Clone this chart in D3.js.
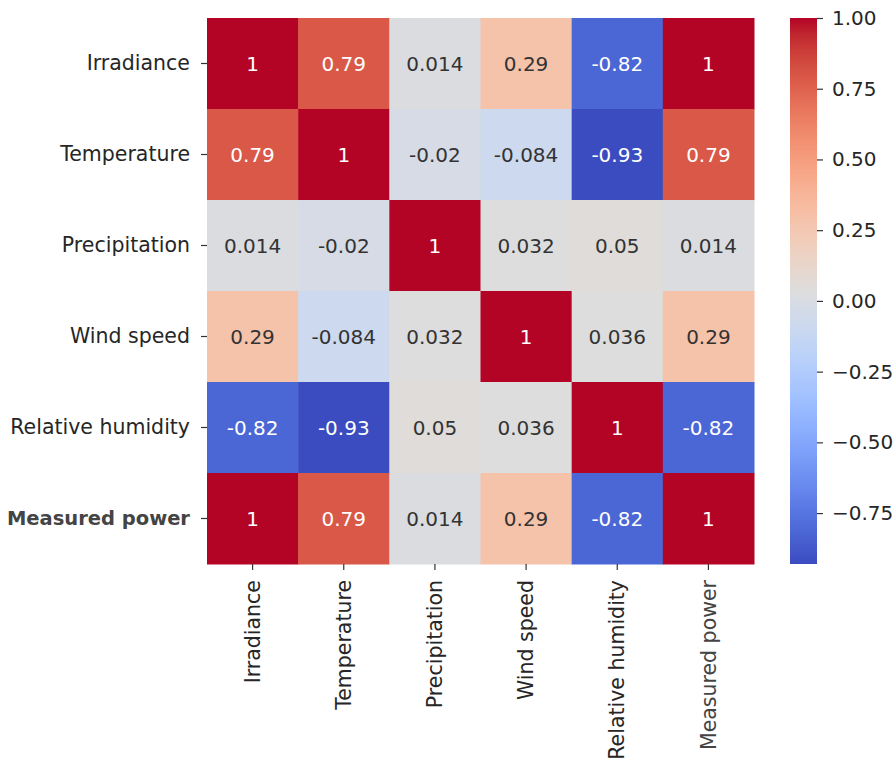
<!DOCTYPE html>
<html>
<head>
<meta charset="utf-8">
<script src="https://cdn.jsdelivr.net/npm/d3@7"></script>
<style>
  html, body { margin: 0; padding: 0; background: #fff; }
  svg { display: block; }
  text { font-family: "DejaVu Sans", sans-serif; }
</style>
</head>
<body>
<svg id="chart" width="896" height="760"></svg>
<script>
// Variables of the correlation matrix (rows top to bottom, columns left to right)
const variables = ["Irradiance", "Temperature", "Precipitation", "Wind speed", "Relative humidity", "Measured power"];

// Correlation coefficients, one array per row
const rowIrradiance   = [1, 0.79, 0.014, 0.29, -0.82, 1];
const rowTemperature  = [0.79, 1, -0.02, -0.084, -0.93, 0.79];
const rowPrecipitation= [0.014, -0.02, 1, 0.032, 0.05, 0.014];
const rowWindSpeed    = [0.29, -0.084, 0.032, 1, 0.036, 0.29];
const rowHumidity     = [-0.82, -0.93, 0.05, 0.036, 1, -0.82];
const rowPower        = [1, 0.79, 0.014, 0.29, -0.82, 1];
const matrix = [rowIrradiance, rowTemperature, rowPrecipitation, rowWindSpeed, rowHumidity, rowPower];

// Colour bar tick values
const colorbarTicks = [-0.75, -0.5, -0.25, 0, 0.25, 0.5, 0.75, 1.0];

// Diverging "coolwarm" palette control points
const coolwarmStops = [
  [59,76,192],[68,90,204],[77,104,215],[87,117,225],[98,130,234],[108,142,241],
  [119,154,247],[130,165,251],[141,176,254],[152,185,255],[163,194,255],[174,201,253],
  [184,208,249],[194,213,244],[204,217,238],[213,219,230],[221,221,221],[229,216,209],
  [236,211,197],[241,204,185],[245,196,173],[247,187,160],[247,177,148],[247,166,135],
  [244,154,123],[241,141,111],[236,127,99],[229,112,88],[222,96,77],[213,80,66],
  [203,62,56],[192,40,47],[180,4,38]
].map(c => d3.rgb(c[0], c[1], c[2]).toString());

const allValues = matrix.flat();
const vmin = d3.min(allValues), vmax = d3.max(allValues);

const norm = d3.scaleLinear().domain([vmin, vmax]).range([0, 1]).clamp(true);
const cmap = d3.scaleLinear()
  .domain(coolwarmStops.map((_, i) => i / (coolwarmStops.length - 1)))
  .range(coolwarmStops)
  .interpolate(d3.interpolateRgb);
const color = v => cmap(norm(v));

// Layout
const plot = { left: 207, top: 18, width: 547, height: 546 };
const bar = { left: 790, width: 27 };

const svg = d3.select("#chart");

const x = d3.scaleBand().domain(variables).range([plot.left, plot.left + plot.width]);
const y = d3.scaleBand().domain(variables).range([plot.top, plot.top + plot.height]);

const cells = [];
matrix.forEach((row, i) => row.forEach((v, j) => cells.push({ r: variables[i], c: variables[j], v })));

// Heat cells
svg.append("g").selectAll("rect").data(cells).join("rect")
  .attr("x", d => x(d.c))
  .attr("y", d => y(d.r))
  .attr("width", x.bandwidth() + 0.5)
  .attr("height", y.bandwidth() + 0.5)
  .attr("fill", d => color(d.v));

// Annotation text colour follows cell luminance
function textColor(v) {
  const c = d3.rgb(color(v));
  const lin = u => { u /= 255; return u <= 0.03928 ? u / 12.92 : Math.pow((u + 0.055) / 1.055, 2.4); };
  const lum = 0.2126 * lin(c.r) + 0.7152 * lin(c.g) + 0.0722 * lin(c.b);
  return lum > 0.408 ? "#333333" : "#ffffff";
}

svg.append("g").selectAll("text").data(cells).join("text")
  .attr("x", d => x(d.c) + x.bandwidth() / 2)
  .attr("y", d => y(d.r) + y.bandwidth() / 2)
  .attr("text-anchor", "middle")
  .attr("dominant-baseline", "central")
  .attr("font-size", 20)
  .attr("fill", d => textColor(d.v))
  .text(d => String(d.v));

// Axes
const fancy = d => d === "Measured power";

const yAxis = svg.append("g")
  .attr("transform", `translate(${plot.left},0)`)
  .call(d3.axisLeft(y).tickSize(6).tickPadding(11));
yAxis.select(".domain").remove();
yAxis.selectAll(".tick line").attr("stroke", "#333").attr("stroke-width", 1.2);
yAxis.selectAll(".tick text")
  .attr("fill", d => fancy(d) ? "#444" : "#262626")
  .attr("font-family", d => fancy(d) ? "'Open Sans', sans-serif" : "'DejaVu Sans', sans-serif")
  .attr("font-weight", d => fancy(d) ? 600 : 400)
  .attr("font-size", d => fancy(d) ? 19.5 : 20.5);

const xAxis = svg.append("g")
  .attr("transform", `translate(0,${plot.top + plot.height})`)
  .call(d3.axisBottom(x).tickSize(6).tickPadding(8));
xAxis.select(".domain").remove();
xAxis.selectAll(".tick line").attr("stroke", "#333").attr("stroke-width", 1.2);
xAxis.selectAll(".tick text")
  .attr("transform", "rotate(-90)")
  .attr("text-anchor", "end")
  .attr("x", -16)
  .attr("y", 0)
  .attr("dy", "0.35em")
  .attr("fill", d => fancy(d) ? "#444" : "#262626")
  .attr("font-family", d => fancy(d) ? "'Open Sans', sans-serif" : "'DejaVu Sans', sans-serif")
  .attr("font-weight", d => fancy(d) ? 500 : 400)
  .attr("font-size", d => fancy(d) ? 20.5 : 20.5);

// Colour bar
const cbScale = d3.scaleLinear().domain([vmin, vmax]).range([plot.top + plot.height, plot.top]);
const defs = svg.append("defs");
const grad = defs.append("linearGradient")
  .attr("id", "cbgrad").attr("x1", 0).attr("x2", 0).attr("y1", 1).attr("y2", 0);
coolwarmStops.forEach((c, i) => {
  grad.append("stop").attr("offset", i / (coolwarmStops.length - 1)).attr("stop-color", c);
});
svg.append("rect")
  .attr("x", bar.left).attr("y", plot.top)
  .attr("width", bar.width).attr("height", plot.height)
  .attr("fill", "url(#cbgrad)");

const cbAxis = svg.append("g")
  .attr("transform", `translate(${bar.left + bar.width},0)`)
  .call(d3.axisRight(cbScale).tickValues(colorbarTicks).tickFormat(d3.format(".2f")).tickSize(6).tickPadding(9));
cbAxis.select(".domain").remove();
cbAxis.selectAll(".tick line").attr("stroke", "#333").attr("stroke-width", 1.2);
cbAxis.selectAll(".tick text").attr("font-size", 20).attr("fill", "#262626");
</script>
</body>
</html>
